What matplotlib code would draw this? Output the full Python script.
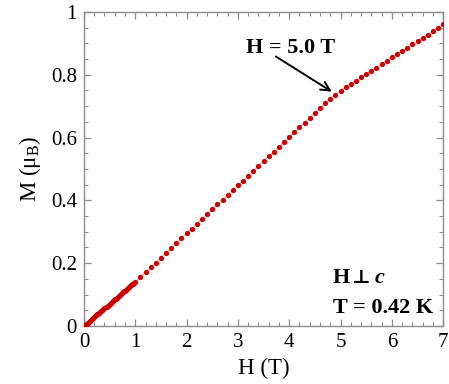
import matplotlib as mpl

mpl.use('Agg')
import matplotlib.pyplot as plt
from matplotlib.ticker import MultipleLocator, FuncFormatter

# low-field sweep (dense points)
H_low = [0.00, 0.02, 0.04, 0.06, 0.08, 0.10, 0.12, 0.14, 0.16, 0.18,
         0.20, 0.22, 0.24, 0.26, 0.28, 0.30, 0.32, 0.34, 0.36, 0.38,
         0.40, 0.42, 0.44, 0.46, 0.48, 0.50, 0.52, 0.54, 0.56, 0.58,
         0.60, 0.62, 0.64, 0.66, 0.68, 0.70, 0.72, 0.74, 0.76, 0.78,
         0.80, 0.82, 0.84, 0.86, 0.88, 0.90, 0.92, 0.94, 0.96, 0.98]
M_low = [0.000, 0.003, 0.006, 0.008, 0.011, 0.014, 0.017, 0.020, 0.023, 0.025,
         0.028, 0.031, 0.034, 0.037, 0.039, 0.042, 0.045, 0.048, 0.051, 0.054,
         0.056, 0.059, 0.062, 0.065, 0.068, 0.071, 0.073, 0.076, 0.079, 0.082,
         0.085, 0.087, 0.090, 0.093, 0.096, 0.099, 0.102, 0.104, 0.107, 0.110,
         0.113, 0.116, 0.118, 0.121, 0.124, 0.127, 0.130, 0.133, 0.135, 0.138]

# high-field sweep (0.1 T steps)
H_high = [1.0, 1.1, 1.2, 1.3, 1.4, 1.5, 1.6, 1.7, 1.8, 1.9,
          2.0, 2.1, 2.2, 2.3, 2.4, 2.5, 2.6, 2.7, 2.8, 2.9,
          3.0, 3.1, 3.2, 3.3, 3.4, 3.5, 3.6, 3.7, 3.8, 3.9,
          4.0, 4.1, 4.2, 4.3, 4.4, 4.5, 4.6, 4.7, 4.8, 4.9,
          5.0, 5.1, 5.2, 5.3, 5.4, 5.5, 5.6, 5.7, 5.8, 5.9,
          6.0, 6.1, 6.2, 6.3, 6.4, 6.5, 6.6, 6.7, 6.8, 6.9, 7.0]
M_high = [0.141, 0.156, 0.172, 0.187, 0.202, 0.218, 0.233, 0.248, 0.264, 0.279,
          0.295, 0.310, 0.325, 0.341, 0.356, 0.371, 0.387, 0.402, 0.417, 0.433,
          0.448, 0.463, 0.479, 0.494, 0.509, 0.525, 0.540, 0.555, 0.571, 0.586,
          0.601, 0.617, 0.632, 0.647, 0.663, 0.678, 0.693, 0.709, 0.724, 0.737,
          0.749, 0.760, 0.771, 0.781, 0.792, 0.802, 0.813, 0.823, 0.834, 0.844,
          0.855, 0.865, 0.876, 0.886, 0.897, 0.907, 0.918, 0.928, 0.939, 0.949, 0.960]

serif = ['Liberation Serif', 'DejaVu Serif']
plt.rcParams['font.family'] = serif
plt.rcParams['font.size'] = 15
plt.rcParams['mathtext.fontset'] = 'custom'
plt.rcParams['mathtext.rm'] = 'Liberation Serif'

red = '#cc0000'
pink = '#e8a0a0'
grey = '#8c8c8c'

fig = plt.figure(figsize=(4.49, 3.84), dpi=100)
ax = fig.add_axes([0.187, 0.151, 0.800, 0.818])

H_all = H_low + H_high
M_all = M_low + M_high
ax.plot(H_all, M_all, '-', color=pink, lw=0.8, zorder=2)
ax.plot(H_low, M_low, 'o', color=red, ms=3.8, mec='none', zorder=3)
ax.plot(H_high, M_high, 'o', color=red, ms=3.8, mec='none', zorder=3)

ax.set_xlim(0, 7)
ax.set_ylim(0, 1)
ax.xaxis.set_major_locator(MultipleLocator(1))
ax.xaxis.set_minor_locator(MultipleLocator(0.2))
ax.yaxis.set_major_locator(MultipleLocator(0.2))
ax.yaxis.set_minor_locator(MultipleLocator(0.05))
ax.yaxis.set_major_formatter(FuncFormatter(lambda v, p: '%g' % round(v, 2)))

for s in ax.spines.values():
    s.set_color(grey)
    s.set_linewidth(1.0)
ax.tick_params(which='both', direction='in', top=True, right=True,
               color=grey, labelcolor='black')
ax.tick_params(which='major', length=5, width=0.9, pad=5)
ax.tick_params(which='minor', length=3, width=0.8)

ax.set_xlabel('H (T)', fontsize=16.5, labelpad=4)
ax.set_ylabel(r'M ($\mathregular{\mu_B}$)', fontsize=16.5, labelpad=6)

# label and arrow for the kink
ax.text(4.02, 0.884, 'H = 5.0 T', fontsize=16, fontweight='bold',
        ha='center', va='center')
ax.annotate('', xy=(4.83, 0.746), xytext=(3.74, 0.858),
            arrowprops=dict(arrowstyle='->', color='black', lw=1.4,
                            shrinkA=0, shrinkB=0, mutation_scale=16))

# field direction / temperature
ax.text(4.85, 0.152, 'H', fontsize=16, fontweight='bold',
        ha='left', va='center')
ax.text(5.23, 0.150, '\u22a5', fontsize=14, fontweight='bold',
        ha='left', va='center')
ax.text(5.67, 0.152, 'c', fontsize=16, fontweight='bold', style='italic',
        ha='left', va='center')
ax.text(4.85, 0.057, 'T = 0.42 K', fontsize=16, fontweight='bold',
        ha='left', va='center')

fig.savefig('out.png', dpi=100)
